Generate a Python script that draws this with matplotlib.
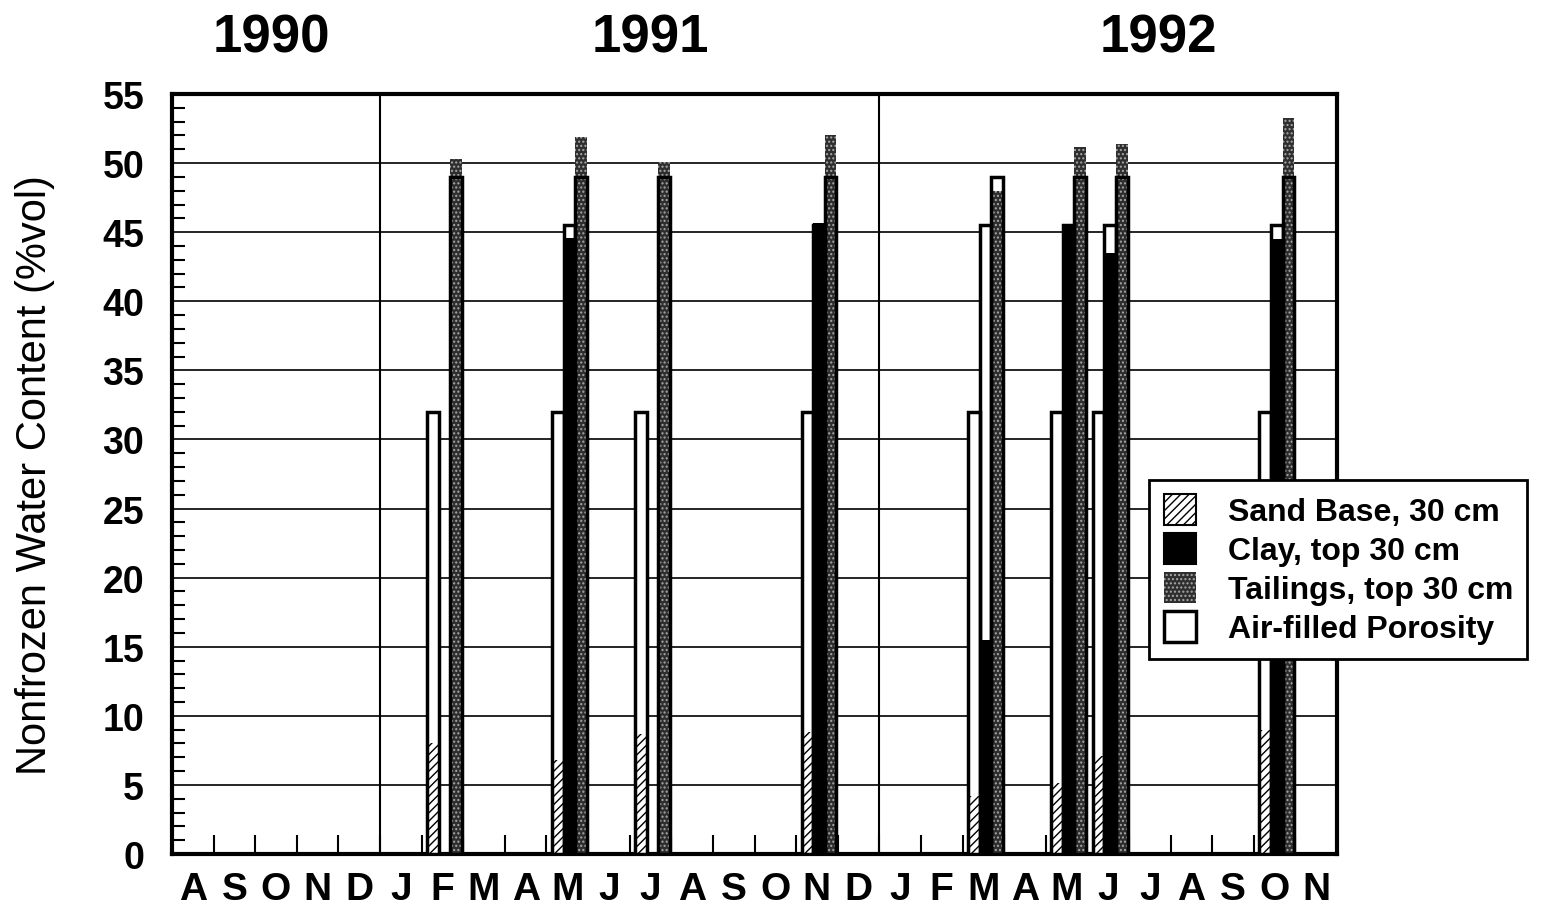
import numpy as np
import matplotlib
matplotlib.use('Agg')
import matplotlib.pyplot as plt
from matplotlib.patches import Patch
from matplotlib.ticker import MultipleLocator

plt.rcParams['font.family'] = ['Liberation Sans', 'DejaVu Sans']
plt.rcParams['hatch.linewidth'] = 1.0

# month axis: Aug 1990 .. Nov 1992
month_labels = ['A', 'S', 'O', 'N', 'D',
                'J', 'F', 'M', 'A', 'M', 'J', 'J', 'A', 'S', 'O', 'N', 'D',
                'J', 'F', 'M', 'A', 'M', 'J', 'J', 'A', 'S', 'O', 'N']
years = ['1990', '1991', '1992']
year_label_x = [2.4, 11.5, 23.7]
year_breaks = [5, 17]

# sampling dates (month index) and nonfrozen water content, %vol
sample_month = [6, 9, 11, 15, 19, 21, 22, 26]
sand = [8.0, 6.8, 8.7, 8.8, 4.2, 5.1, 7.1, 9.0]
clay = [np.nan, 44.6, np.nan, 45.7, 15.5, 45.6, 43.5, 44.5]
tailings = [50.3, 51.9, 50.1, 52.0, 48.0, 51.2, 51.4, 53.3]

# total porosity of each layer
sand_por = 32.0
clay_por = 45.5
tail_por = 49.0

fig = plt.figure(figsize=(15.45, 9.2), dpi=100)
ax = fig.add_axes([0.1113, 0.0707, 0.7541, 0.826])

w = 0.28
x = np.array(sample_month) + 0.55

def layer(xpos, vals, por, fill_kw):
    for xi, v in zip(xpos, vals):
        if np.isnan(v):
            continue
        ax.bar(xi, v, w, linewidth=0, zorder=3, **fill_kw)
        if v < por:
            ax.bar(xi, por - v, w, bottom=v, color='white', linewidth=0, zorder=3)
        ax.bar(xi, por, w, fill=False, edgecolor='black', linewidth=2.5, zorder=4)

layer(x - w, sand, sand_por, dict(facecolor='white', edgecolor='black', hatch='////'))
layer(x, clay, clay_por, dict(color='black'))
layer(x + w, tailings, tail_por, dict(facecolor='#2e2e2e', edgecolor='#a8a8a8', hatch='....'))

ax.set_xlim(0, len(month_labels))
ax.set_ylim(0, 55)
ax.yaxis.set_major_locator(MultipleLocator(5))
ax.yaxis.set_minor_locator(MultipleLocator(1))
ax.grid(axis='y', which='major', color='black', linewidth=1.2, zorder=1)
ax.set_axisbelow(True)
for b in year_breaks:
    ax.axvline(b, color='black', linewidth=1.5, zorder=2)

ax.set_xticks(np.arange(len(month_labels)) + 0.5)
ax.set_xticklabels(month_labels, fontsize=28, fontweight='bold')
ax.set_xticks(np.arange(1, len(month_labels)), minor=True)
ax.tick_params(axis='x', which='major', length=0, pad=12)
ax.tick_params(axis='x', which='minor', direction='in', length=14, width=1.5)
ax.tick_params(axis='y', which='major', direction='in', length=0, pad=20, labelsize=27)
ax.tick_params(axis='y', which='minor', direction='in', length=9, width=1.5)
for lab in ax.get_yticklabels():
    lab.set_fontweight('bold')
for s in ax.spines.values():
    s.set_linewidth(3)

ax.set_ylabel('Nonfrozen Water Content (%vol)', fontsize=30, labelpad=34)

for yr, xp in zip(years, year_label_x):
    ax.text(xp, 59.1, yr, fontsize=38, fontweight='bold', ha='center', va='center', clip_on=False)

handles = [
    Patch(facecolor='white', edgecolor='black', hatch='////', linewidth=1.5),
    Patch(facecolor='black', edgecolor='black', linewidth=1.5),
    Patch(facecolor='#2e2e2e', edgecolor='#a8a8a8', hatch='....', linewidth=0),
    Patch(facecolor='white', edgecolor='black', linewidth=2.5),
]
labels = ['Sand Base, 30 cm', 'Clay, top 30 cm', 'Tailings, top 30 cm', 'Air-filled Porosity']
leg = ax.legend(handles, labels, loc='lower left', bbox_to_anchor=(0.744, 0.283),
                bbox_transform=fig.transFigure, borderaxespad=0, fancybox=False,
                prop={'weight': 'bold', 'size': 23}, handlelength=1.0, handleheight=1.1,
                labelspacing=0.18, handletextpad=1.0, borderpad=0.45, framealpha=1)
leg.get_frame().set_edgecolor('black')
leg.get_frame().set_linewidth(2)
leg.set_zorder(10)

fig.savefig('out.png', dpi=100, facecolor='white')
